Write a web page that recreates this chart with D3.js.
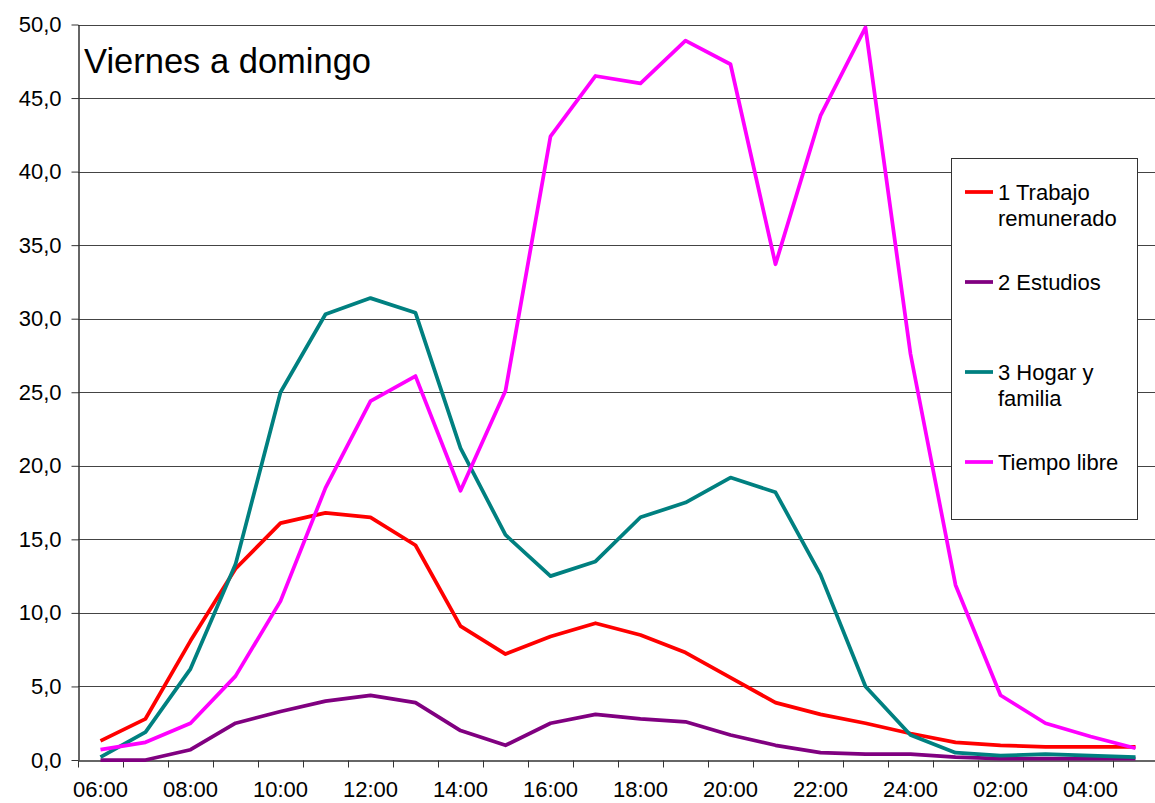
<!DOCTYPE html>
<html>
<head>
<meta charset="utf-8">
<script src="https://cdn.jsdelivr.net/npm/d3@7"></script>
<style>
    body { margin: 0; background: #fff; }
    svg text { font-family: "Liberation Sans", Arial, sans-serif; fill: #000; }
</style>
</head>
<body>
<div id="chart"></div>
<script>
const hours = ["06:00","07:00","08:00","09:00","10:00","11:00","12:00","13:00","14:00","15:00","16:00","17:00",
    "18:00","19:00","20:00","21:00","22:00","23:00","24:00","01:00","02:00","03:00","04:00","05:00"];
const hourLabels = ["06:00","08:00","10:00","12:00","14:00","16:00","18:00","20:00","22:00","24:00","02:00","04:00"];

const trabajo = [1.3, 2.8, 8.1, 13.0, 16.1, 16.8, 16.5, 14.6, 9.1, 7.2, 8.4, 9.3, 8.5, 7.3, 5.6, 3.9, 3.1, 2.5, 1.8, 1.2, 1.0, 0.9, 0.9, 0.9];
const estudios = [0.0, 0.0, 0.7, 2.5, 3.3, 4.0, 4.4, 3.9, 2.0, 1.0, 2.5, 3.1, 2.8, 2.6, 1.7, 1.0, 0.5, 0.4, 0.4, 0.2, 0.1, 0.1, 0.1, 0.1];
const hogar = [0.2, 1.9, 6.2, 13.3, 25.0, 30.3, 31.4, 30.4, 21.2, 15.3, 12.5, 13.5, 16.5, 17.5, 19.2, 18.2, 12.6, 5.0, 1.7, 0.5, 0.3, 0.4, 0.3, 0.2];
const libre = [0.7, 1.2, 2.5, 5.7, 10.8, 18.5, 24.4, 26.1, 18.3, 25.1, 42.4, 46.5, 46.0, 48.9, 47.3, 33.7, 43.8, 49.8, 27.6, 11.9, 4.4, 2.5, 1.6, 0.8];

const seriesNames = ["1 Trabajo remunerado", "2 Estudios", "3 Hogar y familia", "Tiempo libre"];
const legendLines = [["1 Trabajo", "remunerado"], ["2 Estudios"], ["3 Hogar y", "familia"], ["Tiempo libre"]];
const yTicks = [0, 5, 10, 15, 20, 25, 30, 35, 40, 45, 50];

const width = 1155, height = 803;
const margin = { top: 24.5, right: -3, bottom: 43, left: 78 };

const series = [
    { name: seriesNames[0], values: trabajo, color: "#FF0000" },
    { name: seriesNames[1], values: estudios, color: "#800080" },
    { name: seriesNames[2], values: hogar, color: "#008080" },
    { name: seriesNames[3], values: libre, color: "#FF00FF" }
];

const svg = d3.select("#chart").append("svg")
    .attr("width", width)
    .attr("height", height);

const x = d3.scaleBand()
    .domain(hours)
    .range([margin.left, width - margin.right]);

const y = d3.scaleLinear()
    .domain([0, 50])
    .range([height - margin.bottom, margin.top]);

const fmt = v => d3.format(".1f")(v).replace(".", ",");

// gridlines
svg.append("g")
    .selectAll("line")
    .data(yTicks.filter(d => d > 0))
    .enter()
    .append("line")
    .attr("x1", margin.left)
    .attr("x2", width - margin.right)
    .attr("y1", d => Math.round(y(d)) + 0.5)
    .attr("y2", d => Math.round(y(d)) + 0.5)
    .attr("stroke", "#444")
    .attr("stroke-width", 1);

// y axis
const yAxis = svg.append("g")
    .attr("transform", `translate(${margin.left + 0.5},0)`)
    .call(d3.axisLeft(y).tickValues(yTicks).tickFormat(fmt).tickSize(7).tickSizeOuter(0));
yAxis.select(".domain").attr("stroke", "#333").attr("stroke-width", 1.5);
yAxis.selectAll(".tick line").attr("stroke", "#333");
yAxis.selectAll("text")
    .attr("x", -17)
    .style("font-size", "22px")
    .style("font-family", "'Liberation Sans', Arial, sans-serif");

// x axis
const xAxis = svg.append("g")
    .attr("transform", `translate(0,${Math.round(height - margin.bottom) + 0.5})`)
    .call(d3.axisBottom(x).tickValues([]).tickSizeOuter(0));
xAxis.select(".domain").attr("stroke", "#333").attr("stroke-width", 1.5);

// tick marks at category boundaries
xAxis.selectAll(".bound")
    .data(hours)
    .enter()
    .append("line")
    .attr("class", "bound")
    .attr("x1", d => x(d) + 0.5)
    .attr("x2", d => x(d) + 0.5)
    .attr("y1", 0)
    .attr("y2", 7)
    .attr("stroke", "#333");

xAxis.selectAll(".lbl")
    .data(hourLabels)
    .enter()
    .append("text")
    .attr("class", "lbl")
    .attr("x", d => x(d) + x.bandwidth() / 2)
    .attr("y", 36)
    .attr("text-anchor", "middle")
    .style("font-size", "22px")
    .text(d => d);

// lines
const line = d3.line()
    .x((d, i) => x(hours[i]) + x.bandwidth() / 2)
    .y(d => y(d));

svg.append("g")
    .selectAll("path")
    .data(series)
    .enter()
    .append("path")
    .attr("fill", "none")
    .attr("stroke", d => d.color)
    .attr("stroke-width", 3.75)
    .attr("stroke-linejoin", "round")
    .attr("d", d => line(d.values));

// title
svg.append("text")
    .attr("x", 84)
    .attr("y", 73)
    .style("font-size", "34.5px")
    .text("Viernes a domingo");

// legend
const legend = svg.append("g");
legend.append("rect")
    .attr("x", 951.5)
    .attr("y", 158.5)
    .attr("width", 186)
    .attr("height", 361)
    .attr("fill", "#fff")
    .attr("stroke", "#333")
    .attr("stroke-width", 1);

const legendY = [192, 282, 372, 462];
series.forEach((s, i) => {
    const g = legend.append("g").attr("transform", `translate(965,${legendY[i]})`);
    g.append("line")
        .attr("x1", 0).attr("x2", 28)
        .attr("y1", 0).attr("y2", 0)
        .attr("stroke", s.color)
        .attr("stroke-width", 3.75);
    g.append("text")
        .attr("x", 33)
        .attr("y", 8)
        .style("font-size", "22px")
        .selectAll("tspan")
        .data(legendLines[i])
        .enter()
        .append("tspan")
        .attr("x", 33)
        .attr("dy", (d, j) => j === 0 ? 0 : 25.5)
        .text(d => d);
});
</script>
</body>
</html>
